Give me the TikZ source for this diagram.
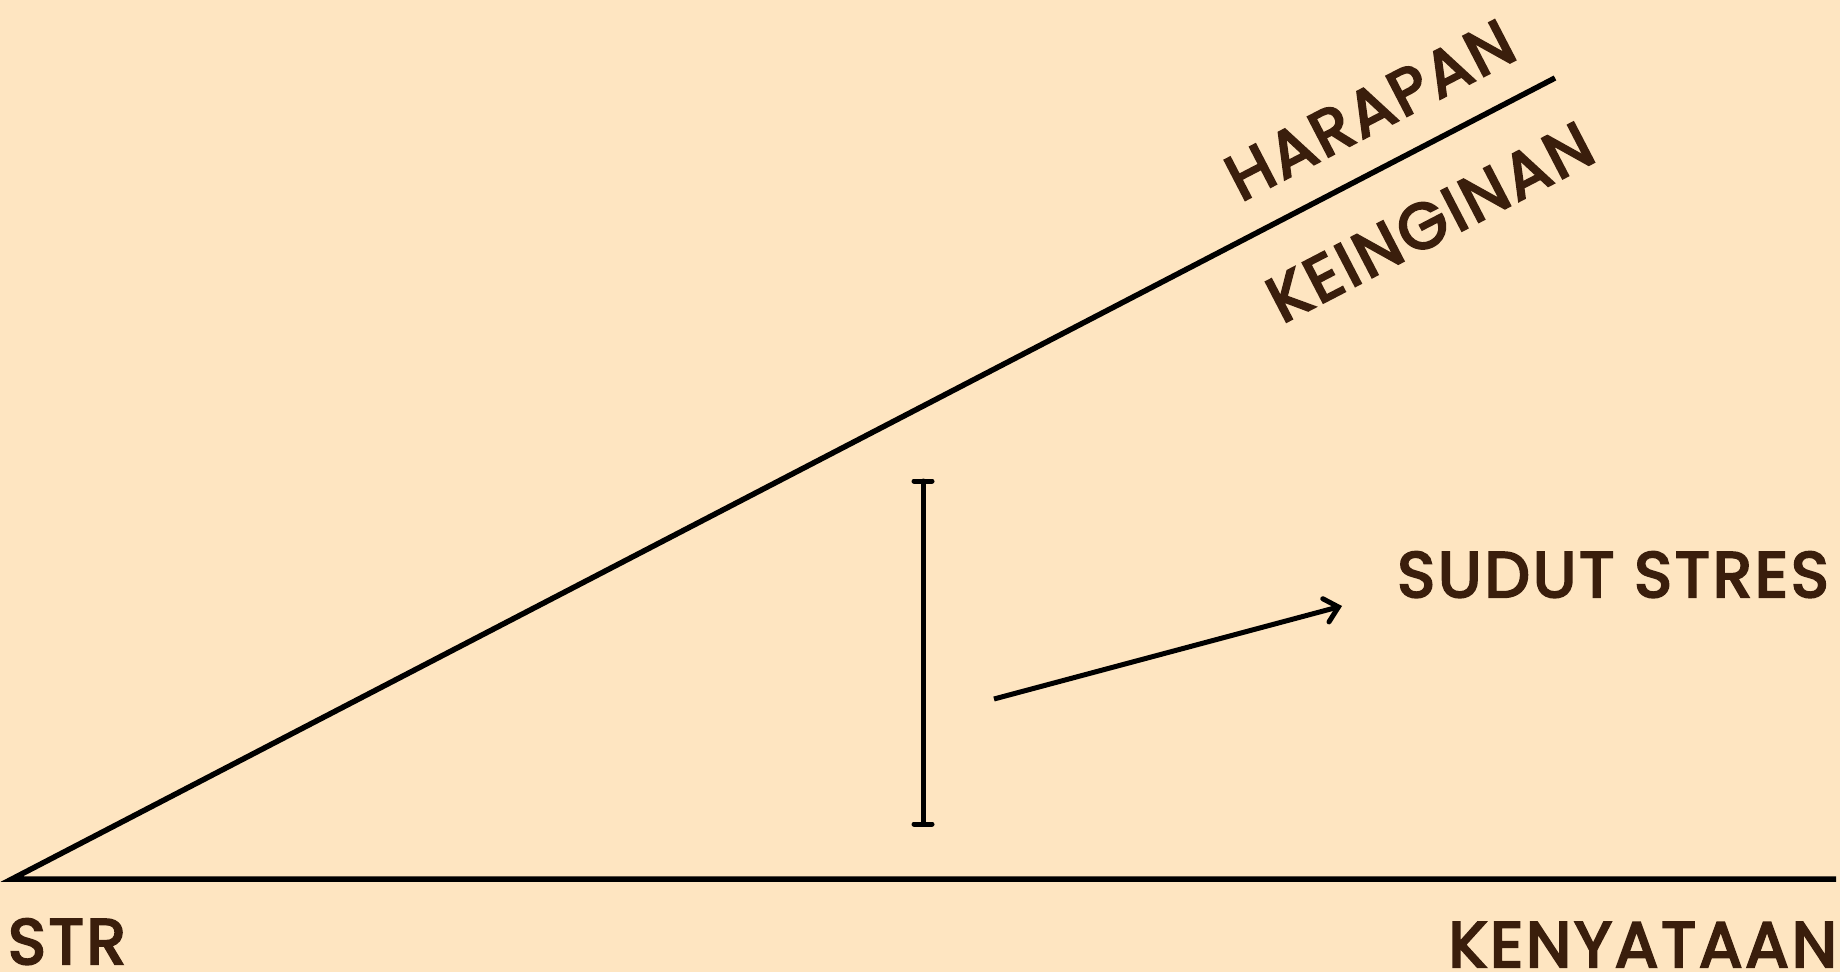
\documentclass[tikz,border=0pt]{standalone}
\usepackage{fontspec}
\setmainfont{Poppins}
\newfontfamily\lblfont{Poppins}[FakeBold=3.8, LetterSpace=5]
\usetikzlibrary{arrows.meta}
\definecolor{bg}{HTML}{FEE5C1}
\definecolor{ink}{HTML}{3A1E0C}
\tikzset{
  lbl/.style={text=ink, inner sep=0pt, font=\fontsize{64}{70}\lblfont},
  stroke/.style={line width=5.5pt, draw=black},
  thin stroke/.style={line width=5pt, draw=black},
}
\begin{document}
\begin{tikzpicture}[x=1pt,y=-1pt]
\fill[bg] (0,0) rectangle (1840,972);
\useasboundingbox (0,0) rectangle (1840,972);
\coordinate (O) at (12,879);
\coordinate (E) at (1836,879);
\coordinate (T) at (1555,78);
\draw[stroke, line cap=butt, line join=miter] (T) -- (O) -- (E);
% stress bar
\coordinate (bt) at (923,481);
\coordinate (bb) at (923,824);
\draw[thin stroke, line cap=round] (bt) -- (bb);
\draw[thin stroke, line cap=round] ([xshift=-9]bt) -- ([xshift=9]bt);
\draw[thin stroke, line cap=round] ([xshift=-9]bb) -- ([xshift=9]bb);
% arrow
\coordinate (as) at (994,699);
\coordinate (ae) at (1342,606);
\draw[thin stroke, -{Straight Barb[length=13pt,width=24pt,line cap=round]}] (as) -- (ae);
% labels
\node[lbl, anchor=base] (sudut) at (1613,597) {SUDUT STRES};
\node[lbl, anchor=base west] (str) at (8,964) {STR};
\node[lbl, anchor=base east] (keny) at (1837,967) {KENYATAAN};
\node[lbl, rotate=27.43] (har) at (1370,110) {HARAPAN};
\node[lbl, rotate=27.43] (kei) at (1430,222) {KEINGINAN};
\end{tikzpicture}
\end{document}
